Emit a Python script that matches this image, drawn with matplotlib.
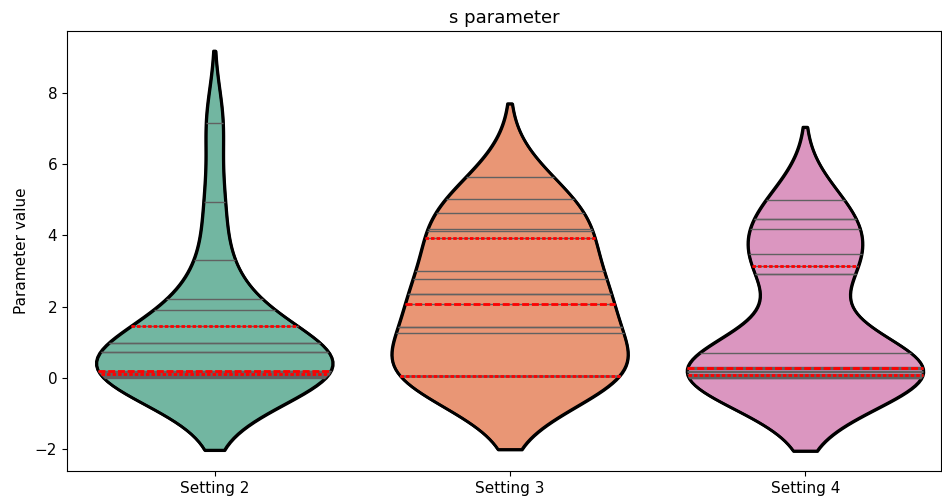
import matplotlib
matplotlib.use("Agg")
import matplotlib.pyplot as plt
import seaborn as sns
import pandas as pd

# samples per setting
settings = ["Setting 2", "Setting 3", "Setting 4"]
setting2 = [0.0, 0.02, 0.05, 0.08, 0.10, 0.10, 0.12, 0.15, 0.18, 0.20, 0.21,
            0.74, 0.74, 0.99, 0.99, 1.45, 1.92, 2.22, 3.32, 4.95, 7.15]
setting3 = [0.05, 0.06, 0.06, 0.06, 0.06, 0.06, 0.07, 1.26, 1.43, 1.43, 2.08,
            2.37, 2.37, 2.79, 2.99, 3.93, 4.12, 4.19, 4.64, 5.01, 5.64]
setting4 = [0.0, 0.0, 0.03, 0.05, 0.07, 0.08, 0.12, 0.18, 0.20, 0.25, 0.27,
            0.32, 0.71, 2.93, 2.93, 3.13, 3.48, 4.18, 4.47, 4.47, 4.99]
colors = ["#66c2a5", "#fc8d62", "#e78ac3"]

df = pd.DataFrame({
    "setting": [settings[0]] * len(setting2) + [settings[1]] * len(setting3) + [settings[2]] * len(setting4),
    "value": setting2 + setting3 + setting4,
})

plt.rcParams["xtick.labelsize"] = 11
plt.rcParams["ytick.labelsize"] = 11
plt.rcParams["axes.labelsize"] = 11
plt.rcParams["axes.titlesize"] = 13

fig, ax = plt.subplots(figsize=(9.42, 5.0), dpi=100)
fig.subplots_adjust(left=0.071, right=0.999, top=0.938, bottom=0.058)

# filled violins with stick lines
sns.violinplot(data=df, x="setting", y="value", hue="setting", palette=colors,
               inner="stick", density_norm="width", linewidth=2, linecolor="black",
               inner_kws=dict(color="0.38", linewidth=1), legend=False, ax=ax)

# quartile lines in red on top
n_before = len(ax.collections)
sns.violinplot(data=df, x="setting", y="value", color="red", fill=False,
               inner="quart", density_norm="width", linewidth=2, ax=ax)
for c in ax.collections[n_before:]:
    c.set_edgecolor("black")
    c.set_linewidth(2)

ax.set_xlim(-0.5, 2.46)
ax.set_title("s parameter")
ax.set_xlabel("")
ax.set_ylabel("Parameter value")

plt.savefig("out.png", dpi=100)
